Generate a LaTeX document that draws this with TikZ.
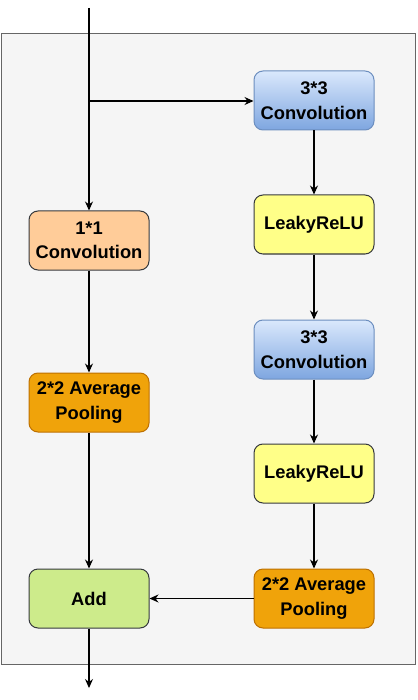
\documentclass[tikz,border=0pt]{standalone}
\usepackage{fontspec}
\setmainfont{Liberation Sans}
\usetikzlibrary{arrows.meta}
\definecolor{bgfill}{HTML}{F5F5F5}
\definecolor{bgline}{HTML}{666666}
\definecolor{darkline}{HTML}{36393D}
\definecolor{bluetop}{HTML}{DAE8FC}
\definecolor{bluebot}{HTML}{7EA6E0}
\definecolor{blueline}{HTML}{6C8EBF}
\definecolor{peach}{HTML}{FFCC99}
\definecolor{orangefill}{HTML}{F0A30A}
\definecolor{orangeline}{HTML}{BD7000}
\definecolor{yellowfill}{HTML}{FFFF88}
\definecolor{greenfill}{HTML}{CDEB8B}
\tikzset{
  block/.style={rounded corners=9pt, minimum width=120pt, minimum height=59pt,
    inner sep=0pt, align=center, line width=1pt,
    font=\fontsize{18.3}{24.5}\selectfont\bfseries},
  bluebox/.style={block, draw=blueline, top color=bluetop, bottom color=bluebot},
  peachbox/.style={block, draw=darkline, fill=peach},
  orangebox/.style={block, draw=orangeline, fill=orangefill},
  yellowbox/.style={block, draw=darkline, fill=yellowfill},
  greenbox/.style={block, draw=darkline, fill=greenfill},
  conn/.style={line width=1.1pt, draw=black, -{Stealth[length=9pt,width=8pt]}},
}
\begin{document}
\begin{tikzpicture}[x=1pt,y=-1pt]
\useasboundingbox (0,0) rectangle (417,700);
\draw[fill=bgfill, draw=bgline, line width=1pt] (1,34) rectangle (415,664);
\coordinate (in) at (89,8);
\coordinate (branch) at (89,101);
\coordinate (out) at (89,688);
\node[bluebox] (conv3a) at (314,100.5) {3*3\\Convolution};
\node[yellowbox] (leaky1) at (314,224.5) {LeakyReLU};
\node[bluebox] (conv3b) at (314,349.5) {3*3\\Convolution};
\node[yellowbox] (leaky2) at (314,473.5) {LeakyReLU};
\node[orangebox] (poolR) at (314,598.5) {2*2 Average\\Pooling};
\node[peachbox] (conv1) at (89,240.5) {1*1\\Convolution};
\node[orangebox] (poolL) at (89,402.5) {2*2 Average\\Pooling};
\node[greenbox] (add) at (89,598.5) {Add};
\draw[conn] (in) -- (conv1);
\draw[conn] (branch) -- (branch -| conv3a.west);
\draw[conn] (conv3a) -- (leaky1);
\draw[conn] (leaky1) -- (conv3b);
\draw[conn] (conv3b) -- (leaky2);
\draw[conn] (leaky2) -- (poolR);
\draw[conn] (poolR) -- (add);
\draw[conn] (conv1) -- (poolL);
\draw[conn] (poolL) -- (add);
\draw[conn] (add) -- (out);
\end{tikzpicture}
\end{document}
